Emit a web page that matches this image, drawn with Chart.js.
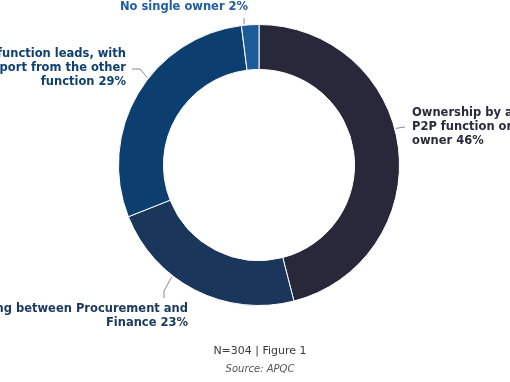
<!DOCTYPE html>
<html>
<head>
<meta charset="utf-8">
<script src="https://cdn.jsdelivr.net/npm/chart.js@4/dist/chart.umd.min.js"></script>
<style>
  html, body { margin: 0; padding: 0; background: #ffffff; overflow: hidden; }
  #wrap { position: relative; width: 510px; height: 382px; }
</style>
</head>
<body>
<div id="wrap"><canvas id="c" width="510" height="382"></canvas></div>
<script>
// ---- data ----
const categories = [
  "Ownership by a single P2P function or process owner",
  "Ownership sharing between Procurement and Finance",
  "One function leads, with support from the other function",
  "No single owner"
];
const values = [46, 23, 29, 2];
const sliceColors = ["#272839", "#1b365b", "#0c3e70", "#1c5c99"];
const labelLines = [
  ["Ownership by a single", "P2P function or process", "owner 46%"],
  ["Ownership sharing between Procurement and", "Finance 23%"],
  ["One function leads, with", "support from the other", "function 29%"],
  ["No single owner 2%"]
];
const footerLines = ["N=304 | Figure 1", "Source: APQC"];

// ---- label layout (styling) ----
const labelStyle = [
  { color: "#2a2a3e", align: "left",   x: 412, y: 113, ang: 75,  path: [[405, 127]] },
  { color: "#1c3a60", align: "right",  x: 188, y: 309, ang: 218, path: [[164, 291], [164, 298]] },
  { color: "#0e3f71", align: "right",  x: 126, y: 54,  ang: 308, path: [[140, 69], [132, 69]] },
  { color: "#1f5fa0", align: "center", x: 184, y: 7,  ang: 354, path: [[244, 18]] }
];

const annot = {
  id: "annot",
  afterDraw(chart) {
    const ctx = chart.ctx;
    const arc0 = chart.getDatasetMeta(0).data[0];
    const cx = arc0.x, cy = arc0.y, R = arc0.outerRadius;
    ctx.save();
    labelStyle.forEach((s, i) => {
      const a = s.ang * Math.PI / 180;
      const sx = cx + (R + 1) * Math.sin(a);
      const sy = cy - (R + 1) * Math.cos(a);
      ctx.beginPath();
      ctx.moveTo(sx, sy);
      s.path.forEach(p => ctx.lineTo(p[0], p[1]));
      ctx.strokeStyle = "#7d8a99";
      ctx.lineWidth = 1;
      ctx.stroke();
      ctx.fillStyle = s.color;
      ctx.font = "bold 11.5px 'DejaVu Sans'";
      ctx.textAlign = s.align;
      ctx.textBaseline = "middle";
      labelLines[i].forEach((t, k) => ctx.fillText(t, s.x, s.y + k * 14));
    });
    ctx.textAlign = "center";
    ctx.textBaseline = "middle";
    ctx.fillStyle = "#3a3a3a";
    ctx.font = "11px 'DejaVu Sans'";
    ctx.fillText(footerLines[0], 260, 351);
    ctx.fillStyle = "#555555";
    ctx.font = "italic 10px 'DejaVu Sans'";
    ctx.fillText(footerLines[1], 260, 369);
    ctx.restore();
  }
};

new Chart(document.getElementById("c"), {
  type: "doughnut",
  data: {
    labels: categories,
    datasets: [{
      data: values,
      backgroundColor: sliceColors,
      borderColor: "#ffffff",
      borderWidth: 1
    }]
  },
  options: {
    responsive: false,
    animation: false,
    devicePixelRatio: 1,
    cutout: "68%",
    layout: { padding: { left: 117, right: 109, top: 24, bottom: 76 } },
    plugins: { legend: { display: false }, tooltip: { enabled: false } }
  },
  plugins: [annot]
});
</script>
</body>
</html>
